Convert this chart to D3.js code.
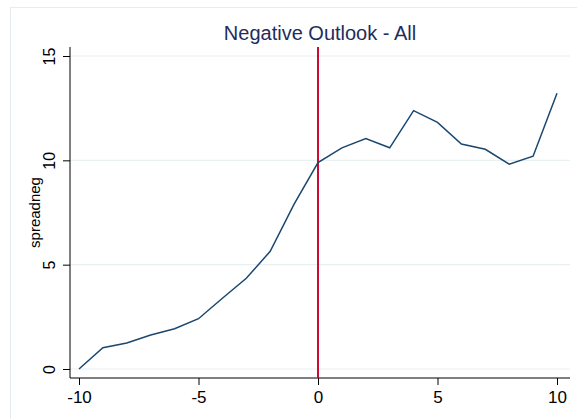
<!DOCTYPE html>
<html>
<head>
<meta charset="utf-8">
<script src="https://cdn.jsdelivr.net/npm/d3@7"></script>
<style>
  body { margin: 0; background: #fff; }
  svg { display: block; font-family: "Liberation Sans", Arial, sans-serif; }
</style>
</head>
<body>
<div id="chart"></div>
<script>
// --- Data ---
const offsets = [-10, -9, -8, -7, -6, -5, -4, -3, -2, -1, 0, 1, 2, 3, 4, 5, 6, 7, 8, 9, 10];
const spreadneg = [0, 1.02, 1.25, 1.63, 1.93, 2.41, 3.39, 4.35, 5.64, 7.9, 9.89,
                   10.6, 11.04, 10.6, 12.38, 11.82, 10.78, 10.53, 9.82, 10.2, 13.21];
const xTicks = [-10, -5, 0, 5, 10];
const yTicks = [0, 5, 10, 15];
const eventAt = 0;
const title = "Negative Outlook - All";
const yTitle = "spreadneg";

const width = 577, height = 419;

const svg = d3.select("#chart")
  .append("svg")
  .attr("width", width)
  .attr("height", height);

// outer graph region border
svg.append("rect")
  .attr("x", 10.5).attr("y", 7.5)
  .attr("width", 600).attr("height", 430)
  .attr("fill", "none")
  .attr("stroke", "#e4edf0");

// plot region
const plot = { left: 70, right: 570, top: 47, bottom: 378 };

const x = d3.scaleLinear().domain([-10, 10]).range([79, 557]);
const y = d3.scaleLinear().domain([0, 15]).range([369, 56]);

// plain hyphen for negatives, like the original
const fmt = d => String(d);

// --- Gridlines ---
svg.append("g")
  .selectAll("line")
  .data(yTicks)
  .enter()
  .append("line")
  .attr("x1", plot.left)
  .attr("x2", plot.right)
  .attr("y1", d => y(d))
  .attr("y2", d => y(d))
  .attr("stroke", "#e8f0f2")
  .attr("stroke-width", 1.2);

// --- Axes ---
const yAxis = svg.append("g")
  .attr("transform", `translate(${plot.left},0)`)
  .call(d3.axisLeft(y).tickValues(yTicks).tickSize(7).tickSizeOuter(0).tickFormat(fmt));
yAxis.select(".domain").remove();
yAxis.append("line")
  .attr("x1", 0).attr("x2", 0)
  .attr("y1", plot.top).attr("y2", plot.bottom)
  .attr("stroke", "#000");
yAxis.selectAll(".tick line").attr("stroke", "#000");
yAxis.selectAll(".tick text")
  .attr("x", null).attr("dy", null)
  .attr("transform", "translate(-15,0) rotate(-90)")
  .attr("text-anchor", "middle")
  .attr("font-size", 16)
  .attr("font-family", "Liberation Sans, Arial, sans-serif")
  .attr("fill", "#000");

const xAxis = svg.append("g")
  .attr("transform", `translate(0,${plot.bottom})`)
  .call(d3.axisBottom(x).tickValues(xTicks).tickSize(7).tickSizeOuter(0).tickFormat(fmt));
xAxis.select(".domain").remove();
xAxis.append("line")
  .attr("x1", plot.left).attr("x2", plot.right)
  .attr("y1", 0).attr("y2", 0)
  .attr("stroke", "#000");
xAxis.selectAll(".tick line").attr("stroke", "#000");
xAxis.selectAll(".tick text")
  .attr("y", 25).attr("dy", null)
  .attr("font-size", 17)
  .attr("font-family", "Liberation Sans, Arial, sans-serif")
  .attr("fill", "#000");

// --- Event line ---
svg.append("line")
  .attr("x1", x(eventAt)).attr("x2", x(eventAt))
  .attr("y1", plot.top).attr("y2", plot.bottom)
  .attr("stroke", "#cc0a36")
  .attr("stroke-width", 2);

// --- Series ---
const line = d3.line()
  .x((d, i) => x(offsets[i]))
  .y(d => y(d));

svg.append("path")
  .datum(spreadneg)
  .attr("d", line)
  .attr("fill", "none")
  .attr("stroke", "#1a476f")
  .attr("stroke-width", 1.5);

// --- Titles ---
svg.append("text")
  .attr("x", (plot.left + plot.right) / 2)
  .attr("y", 40)
  .attr("text-anchor", "middle")
  .attr("font-size", 20)
  .attr("fill", "#1e2d5c")
  .text(title);

svg.append("text")
  .attr("transform", `translate(40,${(plot.top + plot.bottom) / 2}) rotate(-90)`)
  .attr("text-anchor", "middle")
  .attr("font-size", 15)
  .attr("fill", "#000")
  .text(yTitle);
</script>
</body>
</html>
